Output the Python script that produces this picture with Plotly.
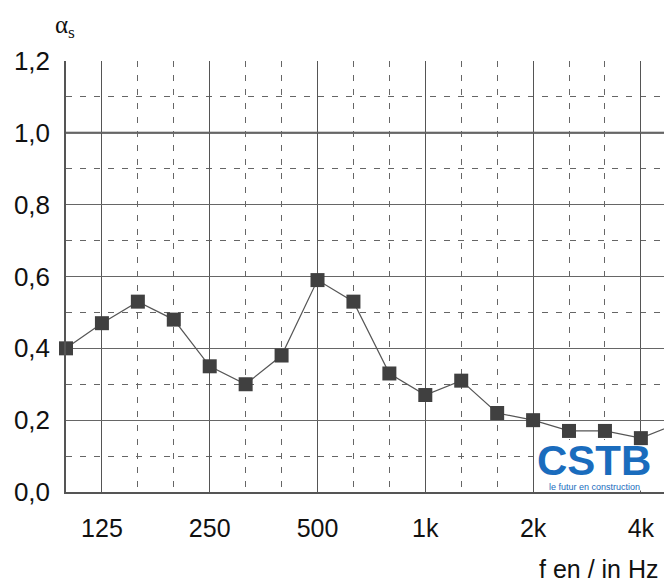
import plotly.graph_objects as go

freqs = [100, 125, 160, 200, 250, 315, 400, 500, 630, 800, 1000, 1250,
         1600, 2000, 2500, 3150, 4000, 5000]
alpha_s = [0.40, 0.47, 0.53, 0.48, 0.35, 0.30, 0.38, 0.59, 0.53, 0.33, 0.27,
           0.31, 0.22, 0.20, 0.17, 0.17, 0.15, 0.19]
x_tick_freqs = [125, 250, 500, 1000, 2000, 4000]
x_tick_labels = ["125", "250", "500", "1k", "2k", "4k"]
y_ticks = [0.0, 0.2, 0.4, 0.6, 0.8, 1.0, 1.2]

idx = list(range(len(freqs)))
major_idx = [freqs.index(f) for f in x_tick_freqs]
minor_idx = [i for i in idx if i not in major_idx and i != 0]

fig = go.Figure()
fig.add_trace(go.Scatter(
    x=idx, y=alpha_s, mode="lines+markers",
    line=dict(color="#555555", width=1.2),
    marker=dict(symbol="square", size=14, color="#404040"),
    cliponaxis=False, showlegend=False,
))

OFF = 8  # page body margin
W, H = 672 - OFF, 584 - OFF
ml, mt = 66 - OFF, 61 - OFF
mb = H - (492 - OFF)
mr = 0
pw = W - ml - mr
ph = H - mt - mb
step = 35.93
xmax = pw / step


def px(xp):
    return (xp - OFF - ml) / pw


def py(yp):
    return 1 - (yp - OFF - mt) / ph


fig.update_layout(
    width=W, height=H,
    margin=dict(l=ml, r=mr, t=mt, b=mb),
    paper_bgcolor="white", plot_bgcolor="white",
    separators=",.",
    font=dict(family="Liberation Sans, Arial, sans-serif", color="#111111"),
    xaxis=dict(
        range=[0, xmax], showline=True, linecolor="#555555", linewidth=1.5,
        tickmode="array", tickvals=major_idx, ticktext=x_tick_labels,
        ticks="", ticklabelstandoff=13, tickfont=dict(size=25, color="#111111"),
        showgrid=True, gridcolor="#555555", gridwidth=1.3,
        minor=dict(tickvals=minor_idx, showgrid=True, gridcolor="#666666",
                   griddash="6px,8px", gridwidth=1),
        zeroline=False,
    ),
    yaxis=dict(
        range=[0, 1.2], showline=True, linecolor="#555555", linewidth=1.5,
        tickmode="array", tickvals=y_ticks, tickformat=".1f",
        ticks="", ticklabelstandoff=9, tickfont=dict(size=26, color="#111111"),
        showgrid=True, gridcolor="#666666", gridwidth=1.1,
        minor=dict(dtick=0.1, showgrid=True, gridcolor="#666666",
                   griddash="6px,8px", gridwidth=1),
        zeroline=False,
    ),
    shapes=[
        dict(type="line", xref="paper", yref="y", x0=0, x1=1, y0=1.0, y1=1.0,
             line=dict(color="#444444", width=2), layer="below"),
        dict(type="rect", xref="x", yref="y", x0=13.05, x1=xmax, y0=0.004,
             y1=0.145, fillcolor="white", line=dict(width=0), layer="between"),
    ],
    annotations=[
        dict(text="α<sub>s</sub>", xref="paper", yref="paper",
             x=px(53), y=py(9),
             xanchor="left", yanchor="top", showarrow=False,
             font=dict(family="Liberation Serif, DejaVu Serif, serif", size=25,
                       color="#111111")),
        dict(text="f en / in Hz", xref="paper", yref="paper",
             x=px(661), y=py(569),
             xanchor="right", yanchor="middle", showarrow=False,
             font=dict(size=25, color="#111111")),
        dict(text="<b>CSTB</b>", xref="paper", yref="paper",
             x=px(594), y=py(460),
             xanchor="center", yanchor="middle", showarrow=False,
             font=dict(size=42, color="#1a6cbd")),
        dict(text="le futur en construction", xref="paper", yref="paper",
             x=px(594), y=py(487),
             xanchor="center", yanchor="middle", showarrow=False,
             font=dict(size=9, color="#1a6cbd")),
    ],
)

fig.write_html("out.html")
